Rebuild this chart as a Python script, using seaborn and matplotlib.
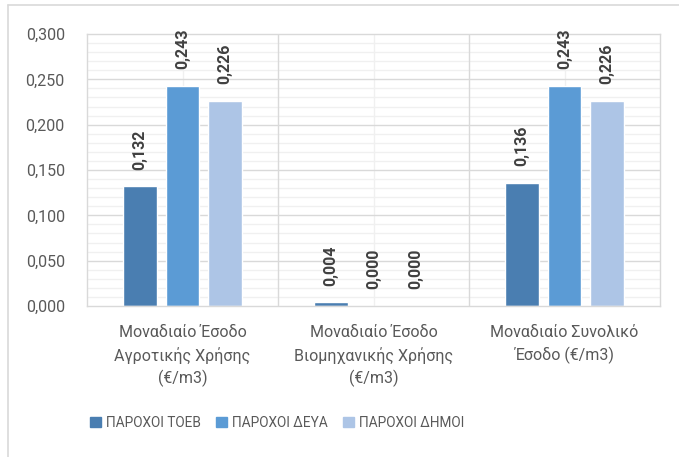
import numpy as np
import pandas as pd
import matplotlib
matplotlib.use("Agg")
import matplotlib.pyplot as plt
import seaborn as sns
from matplotlib.ticker import MultipleLocator, FuncFormatter
from matplotlib.lines import Line2D

# ========== DATA ==========
categories = [
    "Μοναδιαίο Έσοδο\nΑγροτικής Χρήσης\n(€/m3)",
    "Μοναδιαίο Έσοδο\nΒιομηχανικής Χρήσης\n(€/m3)",
    "Μοναδιαίο Συνολικό\nΈσοδο (€/m3)",
]
series_names = ["ΠΑΡΟΧΟΙ ΤΟΕΒ", "ΠΑΡΟΧΟΙ ΔΕΥΑ", "ΠΑΡΟΧΟΙ ΔΗΜΟΙ"]
toeb = [0.132, 0.004, 0.136]
deya = [0.243, 0.000, 0.243]
dimoi = [0.226, 0.000, 0.226]
colors = ["#4A7EB1", "#5B9BD5", "#ADC5E6"]

df = pd.DataFrame({
    "category": categories * 3,
    "series": [series_names[0]] * 3 + [series_names[1]] * 3 + [series_names[2]] * 3,
    "value": toeb + deya + dimoi,
})

# ========== STYLE ==========
sns.set_theme(style="white")
plt.rcParams["font.family"] = ["Roboto", "DejaVu Sans"]

fig = plt.figure(figsize=(6.79, 4.57), dpi=100)
ax = fig.add_axes([87 / 679, 1 - 306 / 457, (660 - 87) / 679, (306 - 34) / 457])

sns.barplot(data=df, x="category", y="value", hue="series", palette=colors,
            width=0.667, gap=0.22, ax=ax, saturation=1, legend=True)

ax.set_ylim(0, 0.3)
ax.set_xlim(-0.5, 2.5)
ax.yaxis.set_major_locator(MultipleLocator(0.05))
ax.yaxis.set_minor_locator(MultipleLocator(0.01))
ax.yaxis.set_major_formatter(FuncFormatter(lambda v, p: f"{v:.3f}".replace(".", ",")))

# gridlines: majors at category boundaries / 0.05, minors lighter
ax.grid(False)
for y in np.arange(0.01, 0.3, 0.01):
    if abs(y / 0.05 - round(y / 0.05)) > 1e-6:
        ax.axhline(y, color="#F0F0F0", lw=1, zorder=0)
for y in np.arange(0.05, 0.3, 0.05):
    ax.axhline(y, color="#D9D9D9", lw=1, zorder=0.5)
for x in [0, 1, 2]:
    ax.axvline(x, color="#F0F0F0", lw=1, zorder=0)
for x in [0.5, 1.5]:
    ax.axvline(x, color="#D9D9D9", lw=1, zorder=0.5)

for s in ax.spines.values():
    s.set_color("#D9D9D9")
    s.set_linewidth(1)

ax.tick_params(axis="both", which="both", length=0, colors="#595959")
ax.tick_params(axis="y", labelsize=11.5, pad=16)
ax.tick_params(axis="x", labelsize=11.5, pad=14)
for lbl in ax.get_xticklabels():
    lbl.set_linespacing(1.45)
ax.set_xlabel("")
ax.set_ylabel("")

# data labels
for cont, vals in zip(ax.containers, [toeb, deya, dimoi]):
    ax.bar_label(cont, labels=[f"{v:.3f}".replace(".", ",") for v in vals],
                 rotation=90, padding=12, fontsize=11.5, fontweight="bold",
                 color="#404040")

# legend
ax.legend_.remove()
handles = [plt.Rectangle((0, 0), 1, 1, color=c) for c in colors]
fig.legend(handles, series_names, loc="center", bbox_to_anchor=(277 / 679, 1 - 423 / 457),
           ncol=3, frameon=False, fontsize=9.8, labelcolor="#595959",
           handlelength=0.8, handleheight=0.8, handletextpad=0.35,
           columnspacing=1.15)

# outer chart border (light gray)
fig.add_artist(Line2D([8 / 679, 8 / 679], [0, 1 - 5 / 457], color="#D9D9D9", lw=1.2,
                      transform=fig.transFigure))
fig.add_artist(Line2D([8 / 679, 1], [1 - 5 / 457, 1 - 5 / 457], color="#D9D9D9", lw=1.2,
                      transform=fig.transFigure))

fig.savefig("out.png", dpi=100, facecolor="white")
